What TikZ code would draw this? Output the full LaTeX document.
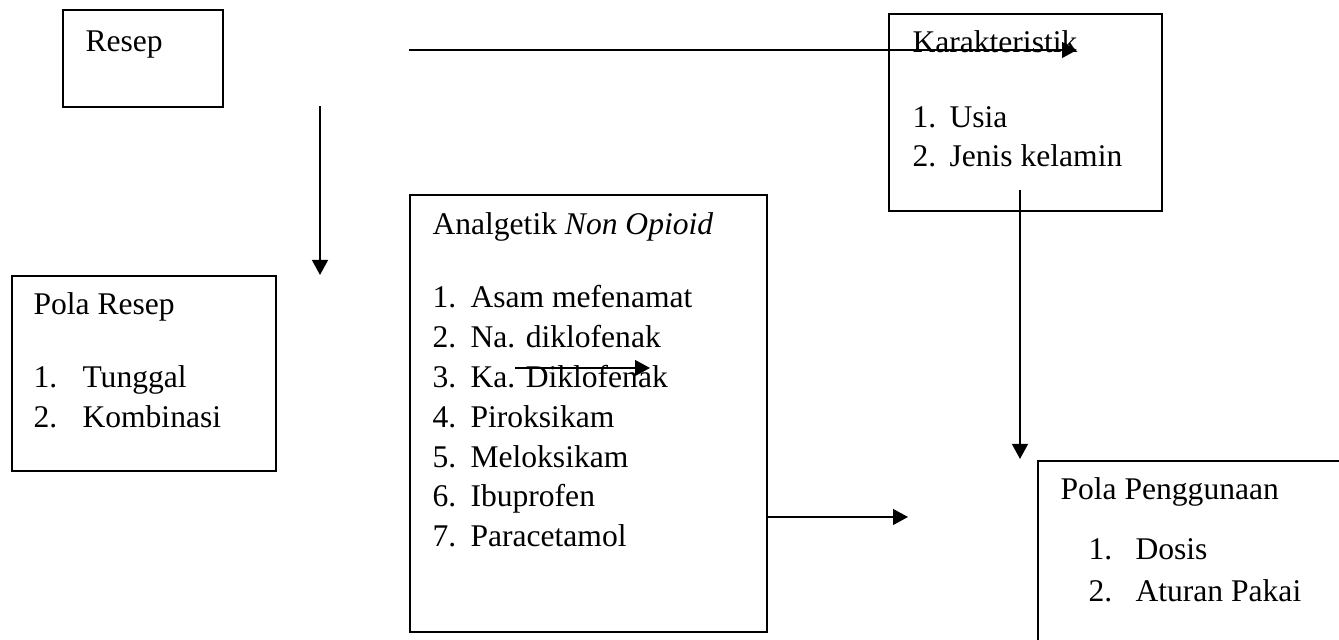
\documentclass[tikz,border=0pt]{standalone}
\usepackage{fontspec}
\setmainfont{Liberation Serif}
\usetikzlibrary{arrows.meta,fit}

\tikzset{
  box/.style={draw,line width=.75pt,inner sep=0pt},
  txt/.style={anchor=base west,inner sep=0pt},
  arr/.style={-{Triangle[length=5.7pt,width=6pt]},line width=.75pt},
}

\begin{document}
\begin{tikzpicture}[x=.38pt,y=-.38pt,font=\fontsize{12}{15.2}\selectfont]
  \useasboundingbox (0,0) rectangle (1339,640);
  \clip (0,0) rectangle (1339,640);
  % boxes
  \path (63,10) coordinate (resepnw) (223,107) coordinate (resepse);
  \node[box,fit=(resepnw)(resepse)] (resep) {};
  \path (889,14) coordinate (karnw) (1162,211) coordinate (karse);
  \node[box,fit=(karnw)(karse)] (kar) {};
  \path (12,276) coordinate (polanw) (276,471) coordinate (polase);
  \node[box,fit=(polanw)(polase)] (pola) {};
  \path (410,195) coordinate (analnw) (767,632) coordinate (anal se);
  \node[box,fit=(analnw)(anal se)] (anal) {};
  \path (1038,461) coordinate (gunanw) (1360,670) coordinate (gunase);
  \node[box,fit=(gunanw)(gunase)] (guna) {};
  % texts
  \node[txt] (resepT) at (85,52) {Resep};
  \node[txt] (karT) at (912,53) {Karakteristik};
  \node[txt] (kar1n) at (912,128) {1.};
  \node[txt] (kar1) at (949,128) {Usia};
  \node[txt] (kar2n) at (912,167) {2.};
  \node[txt] (kar2) at (949,167) {Jenis kelamin};
  \node[txt] (polaT) at (33,315) {Pola Resep};
  \node[txt] (pola1n) at (33,388) {1.};
  \node[txt] (pola1) at (82,388) {Tunggal};
  \node[txt] (pola2n) at (33,428) {2.};
  \node[txt] (pola2) at (82,428) {Kombinasi};
  \node[txt] (analT) at (432,235) {Analgetik \textit{Non Opioid}};
  \foreach \n/\obat in {1/Asam mefenamat,2/Na. diklofenak,3/Ka. Diklofenak,
      4/Piroksikam,5/Meloksikam,6/Ibuprofen,7/Paracetamol}{
    \node[txt] (anal\n n) at (432,{308+39.8*(\n-1)}) {\n.};
    \node[txt] (anal\n) at (470,{308+39.8*(\n-1)}) {\obat};
  }
  \node[txt] (gunaT) at (1060,500) {Pola Penggunaan};
  \node[txt] (guna1n) at (1088,560) {1.};
  \node[txt] (guna1) at (1135,560) {Dosis};
  \node[txt] (guna2n) at (1088,602) {2.};
  \node[txt] (guna2) at (1135,602) {Aturan Pakai};
  % arrows
  \coordinate (topA) at (409,50);
  \coordinate (topB) at (1077,50);
  \draw[arr] (topA) -- (topB);
  \coordinate (leftA) at (320,106);
  \coordinate (leftB) at (320,275);
  \draw[arr] (leftA) -- (leftB);
  \coordinate (midA) at (515,368);
  \coordinate (midB) at (650,368);
  \draw[arr] (midA) -- (midB);
  \coordinate (lowB) at (908,517);
  \draw[arr] (anal.east |- lowB) -- (lowB);
  \coordinate (rightA) at (1020,190);
  \coordinate (rightB) at (1020,459);
  \draw[arr] (rightA) -- (rightB);
\end{tikzpicture}
\end{document}
